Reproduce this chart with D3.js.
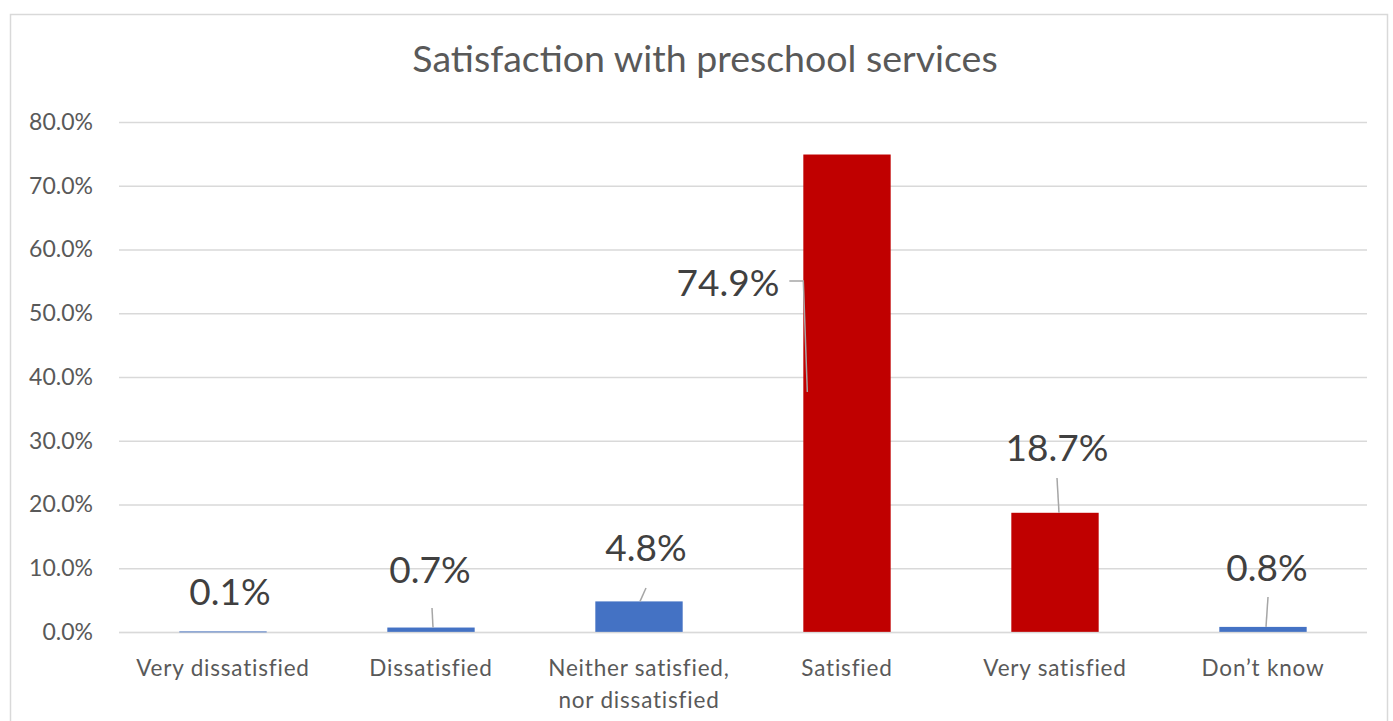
<!DOCTYPE html>
<html><head><meta charset="utf-8">
<script src="https://cdn.jsdelivr.net/npm/d3@7"></script>
<style>body{margin:0;background:#fff;}svg{display:block;}</style>
</head><body>
<svg id="c" width="1393" height="721"></svg>
<script>
const categories = [["Very dissatisfied"],["Dissatisfied"],["Neither satisfied,","nor dissatisfied"],["Satisfied"],["Very satisfied"],["Don’t know"]];
const values = [0.1, 0.7, 4.8, 74.9, 18.7, 0.8];
const barColors = ["#4472C4","#4472C4","#4472C4","#C00000","#C00000","#4472C4"];
const yTicks = [0,10,20,30,40,50,60,70,80];
const title = "Satisfaction with preschool services";
// layout for data labels (pixel offsets from bar centre / chosen baselines)
const labelLayout = [
  {dx:7,  base:605, line:null},
  {dx:-1, base:583, line:{x1:1,y1:608,ex:2}},
  {dx:7,  base:561, line:{x1:7,y1:588,ex:1}},
  {dx:-119,base:296, line:"elbow"},
  {dx:2,  base:461, line:{x1:2,y1:478,ex:4}},
  {dx:4,  base:581, line:{x1:5,y1:597,ex:3}}
];

const svg = d3.select("#c");
const font = "Lato, 'Open Sans', sans-serif";
svg.append("rect").attr("x",10.5).attr("y",14.5).attr("width",1377).attr("height",720)
  .attr("fill","#fff").attr("stroke","#d9d9d9").attr("stroke-width",1.5);

const x = d3.scaleBand().domain(d3.range(values.length)).range([119,1367]).paddingInner(0.58).paddingOuter(0.29);
const y = d3.scaleLinear().domain([0,80]).range([632,122]);

svg.append("text").attr("x",705).attr("y",72).attr("text-anchor","middle")
  .attr("font-family",font).attr("font-size",37.5).attr("fill","#595959").text(title);

const yAxis = d3.axisLeft(y).tickValues(yTicks).tickSize(-(1367-119)).tickFormat(d=>d.toFixed(1)+"%");
const ga = svg.append("g").attr("transform","translate(119,0)").call(yAxis);
ga.select(".domain").remove();
ga.selectAll(".tick line").attr("stroke","#d9d9d9").attr("stroke-width",1.5);
ga.selectAll(".tick text").attr("x",-26).attr("font-family",font).attr("font-size",23).attr("fill","#595959");

svg.append("g").selectAll("rect").data(values).join("rect")
  .attr("x",(d,i)=>x(i)).attr("width",x.bandwidth())
  .attr("y",d=>y(d)).attr("height",d=>Math.max(y(0)-y(d),1.5))
  .attr("fill",(d,i)=>barColors[i]);

// baseline over bars
svg.append("line").attr("x1",119).attr("x2",1367).attr("y1",y(0)+0.5).attr("y2",y(0)+0.5)
  .attr("stroke","#d9d9d9").attr("stroke-opacity",0.6).attr("stroke-width",1.5);

// x labels
const xl = svg.append("g");
categories.forEach((lines,i)=>{
  const t = xl.append("text").attr("x",x(i)+x.bandwidth()/2).attr("y",676).attr("text-anchor","middle")
    .attr("font-family",font).attr("font-size",22.5).attr("letter-spacing",0.8).attr("fill","#595959");
  lines.forEach((s,k)=>t.append("tspan").attr("x",x(i)+x.bandwidth()/2).attr("dy",k?32:0).text(s));
});

// data labels + leader lines
values.forEach((v,i)=>{
  const cx = x(i)+x.bandwidth()/2, L = labelLayout[i];
  svg.append("text").attr("x",cx+L.dx).attr("y",L.base).attr("text-anchor","middle")
    .attr("font-family",font).attr("font-size",37).attr("fill","#404040").text(v.toFixed(1)+"%");
  if(L.line==="elbow"){
    const xl0 = x(i);
    svg.append("polyline").attr("points",[[xl0-14,281],[xl0,281],[xl0+4,392]].map(p=>p.join(",")).join(" "))
      .attr("fill","none").attr("stroke","#a6a6a6").attr("stroke-width",1.5);
  } else if(L.line){
    svg.append("line").attr("x1",cx+L.line.x1).attr("y1",L.line.y1).attr("x2",cx+L.line.ex).attr("y2",y(v))
      .attr("stroke","#a6a6a6").attr("stroke-width",1.5);
  }
});
</script>
</body></html>
